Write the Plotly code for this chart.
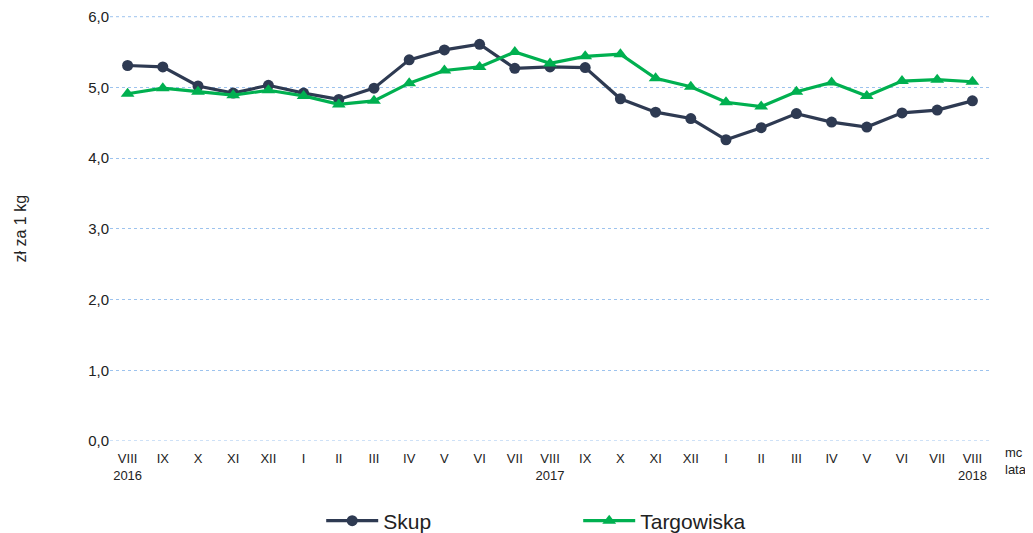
import plotly.graph_objects as go

months = ["VIII", "IX", "X", "XI", "XII", "I", "II", "III", "IV", "V", "VI", "VII",
          "VIII", "IX", "X", "XI", "XII", "I", "II", "III", "IV", "V", "VI", "VII", "VIII"]
years = {0: "2016", 12: "2017", 24: "2018"}
skup = [5.31, 5.29, 5.02, 4.92, 5.03, 4.92, 4.83, 4.99, 5.39, 5.53, 5.61, 5.27,
        5.29, 5.28, 4.84, 4.65, 4.56, 4.26, 4.43, 4.63, 4.51, 4.44, 4.64, 4.68, 4.81]
targowiska = [4.91, 4.99, 4.94, 4.89, 4.96, 4.88, 4.76, 4.81, 5.06, 5.24, 5.29, 5.50,
              5.34, 5.44, 5.47, 5.13, 5.01, 4.79, 4.73, 4.94, 5.07, 4.88, 5.09, 5.11, 5.08]
yticks = [0, 1, 2, 3, 4, 5, 6]
ytick_text = ["0,0", "1,0", "2,0", "3,0", "4,0", "5,0", "6,0"]

x = list(range(len(months)))
ticktext = [m + ("<br>" + years[i] if i in years else "<br> ") for i, m in enumerate(months)]

FONT = "Liberation Sans, Arial, sans-serif"
GRID = "#9DC3EE"

fig = go.Figure()
fig.add_trace(go.Scatter(
    x=x, y=skup, name="Skup", mode="lines+markers",
    line=dict(color="#2E3A52", width=3.2),
    marker=dict(symbol="circle", size=11, color="#2E3A52"),
))
fig.add_trace(go.Scatter(
    x=x, y=targowiska, name="Targowiska", mode="lines+markers",
    line=dict(color="#00B050", width=3.2),
    marker=dict(symbol="triangle-up", size=12, color="#00B050"),
))

fig.update_layout(
    width=1025, height=525,
    margin=dict(l=102, r=43, t=8, b=92, autoexpand=False),
    plot_bgcolor="white", paper_bgcolor="white",
    font=dict(family=FONT, size=14, color="#222"),
    showlegend=True,
    legend=dict(orientation="h", x=0.24, xanchor="left", y=-0.14, yanchor="top",
                font=dict(size=21, family=FONT), entrywidth=190, itemwidth=52,
                bgcolor="rgba(0,0,0,0)"),
    xaxis=dict(
        range=[-0.5, len(months) - 0.5], automargin=False,
        tickmode="array", tickvals=x, ticktext=ticktext,
        tickfont=dict(family=FONT, size=13), ticklabelstandoff=8,
        showgrid=False, zeroline=False, showline=False, ticks="",
    ),
    yaxis=dict(
        range=[0, 6.01], automargin=False, tickmode="array", tickvals=yticks, ticktext=ytick_text,
        showgrid=True, gridcolor=GRID, griddash="dot", gridwidth=1,
        zeroline=False, showline=False, ticks="", ticklabeloverflow="allow",
        tickfont=dict(size=15),
    ),
)
for yv in (yticks[0], yticks[-1]):
    fig.add_shape(type="line", xref="paper", yref="y", x0=0, x1=1, y0=yv, y1=yv,
                  line=dict(color=GRID, width=1, dash="dot"), layer="below")
fig.add_annotation(text="zł za 1 kg", xref="paper", yref="paper", x=0, y=0.5,
                   xshift=-90, xanchor="center", yanchor="middle", textangle=-90,
                   showarrow=False, font=dict(size=16, family=FONT))
fig.add_annotation(text="mc<br>lata", xref="paper", yref="paper", x=1.0, y=-0.005,
                   xanchor="left", yanchor="top", showarrow=False, align="left",
                   xshift=13, font=dict(family=FONT, size=13))

fig.write_html("out.html")
